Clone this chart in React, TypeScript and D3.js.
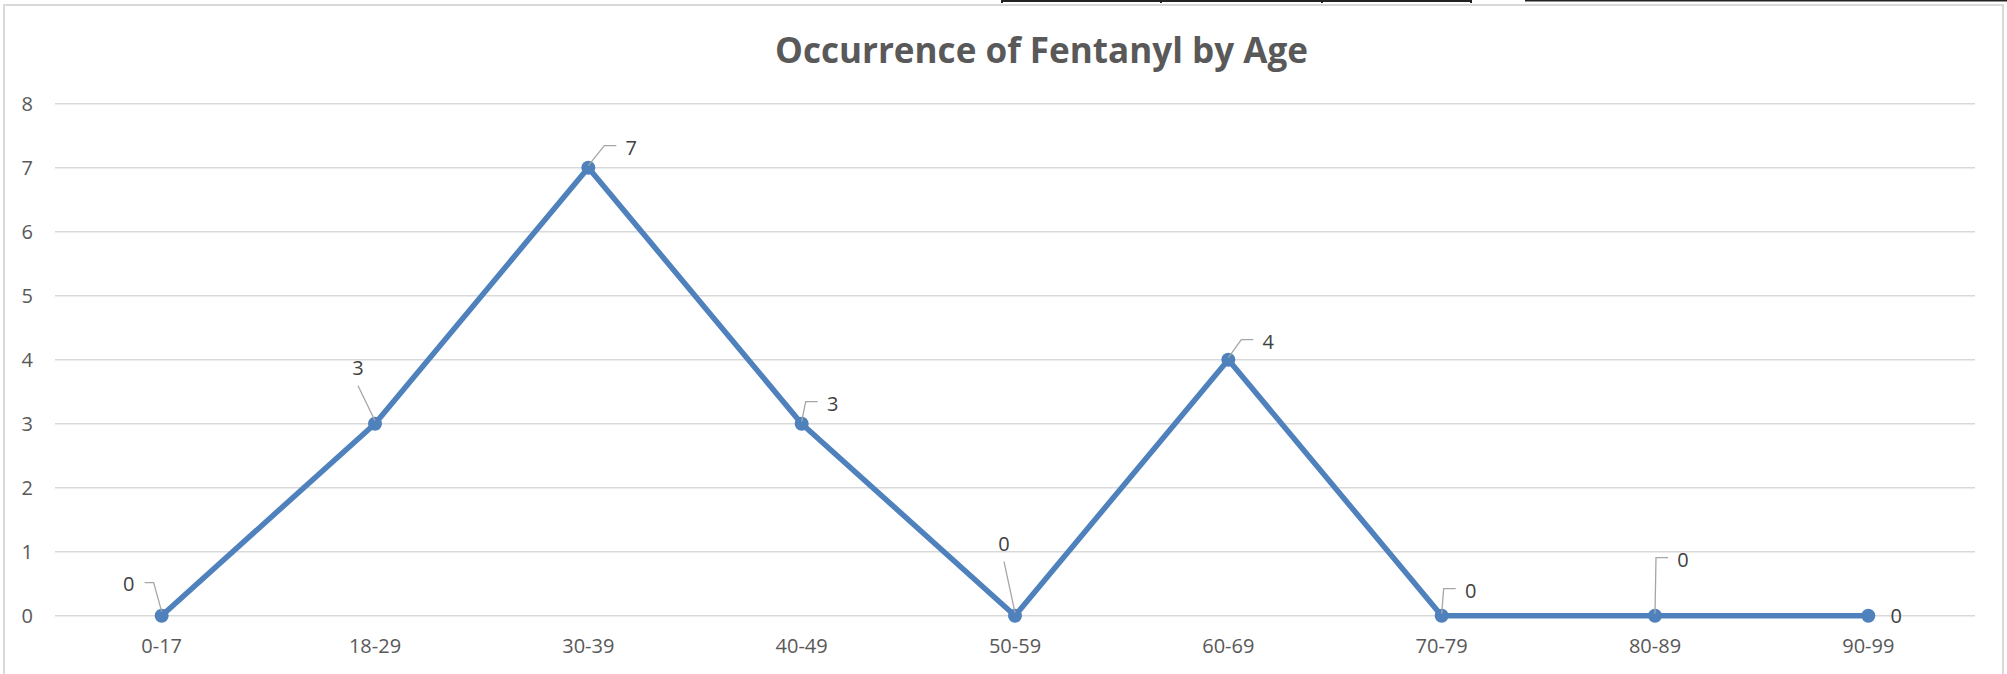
import { useEffect, useRef } from 'react';
import * as d3 from 'd3';

// age bands and counts
const ageGroups = ['0-17', '18-29', '30-39', '40-49', '50-59', '60-69', '70-79', '80-89', '90-99'];
const occurrences = [0, 3, 7, 3, 0, 4, 0, 0, 0];
const yTicks = [0, 1, 2, 3, 4, 5, 6, 7, 8];

// where each data label was dragged to, relative to its point (px) and how the leader runs
const labelOffsets: Array<[number, number]> = [
  [-33, -32], [-17, -56], [43, -20], [31, -20], [-11, -72], [40, -18], [29, -25], [28, -56], [28, 0],
];
const leaderKinds = ['left', 'below', 'right', 'right', 'below', 'right', 'right', 'right', 'none'];

export default function App() {
  const width = 2007;
  const height = 674;
  const plotLeft = 55;
  const plotRight = 1975;
  const plotTop = 103.7;
  const plotBottom = 615.7;

  const x = d3.scaleBand<string>().domain(ageGroups).range([plotLeft, plotRight]).padding(0);
  const cx = (c: string) => (x(c) ?? 0) + x.bandwidth() / 2;
  const y = d3.scaleLinear().domain([0, 8]).range([plotBottom, plotTop]);

  const line = d3.line<number>()
    .x((_, i) => cx(ageGroups[i]))
    .y(d => y(d));

  const gy = useRef<SVGGElement>(null);

  useEffect(() => {
    if (gy.current) {
      const g = d3.select(gy.current);
      g.call(d3.axisLeft(y).tickValues(yTicks).tickSize(0).tickPadding(22).tickFormat(d3.format('d')));
      g.select('.domain').remove();
      g.selectAll('text')
        .attr('font-family', '"Open Sans", sans-serif')
        .attr('font-size', 20)
        .attr('fill', '#595959');
    }
  }, [gy, y]);

  // leader line path for a dragged label
  const leaderPath = (px: number, py: number, lx: number, ly: number, kind: string) => {
    const halfW = 6;
    if (kind === 'right') {
      const left = lx - halfW;
      return `M${px},${py - 2}L${left - 21},${ly - 2}L${left - 9},${ly - 2}`;
    }
    if (kind === 'left') {
      const right = lx + halfW;
      return `M${px},${py - 4}L${right + 19},${ly - 1}L${right + 10},${ly - 1}`;
    }
    if (kind === 'below') {
      return `M${lx},${ly + 18}L${px},${py - 3}`;
    }
    return '';
  };

  return (
    <svg width={width} height={height} style={{ position: 'absolute', left: 0, top: 0, background: '#fff' }}>
      {/* bits of the spreadsheet peeking above the chart */}
      <g stroke="#222" strokeWidth={2}>
        <line x1={1002} x2={1471} y1={1} y2={1} />
        <line x1={1002} x2={1002} y1={0} y2={3} />
        <line x1={1161} x2={1161} y1={0} y2={3} />
        <line x1={1322} x2={1322} y1={0} y2={3} />
        <line x1={1471} x2={1471} y1={0} y2={3} />
        <line x1={1525} x2={2007} y1={0.5} y2={0.5} />
      </g>

      {/* chart area border */}
      <rect x={4} y={5} width={1999} height={700} fill="none" stroke="#d9d9d9" strokeWidth={2} />

      <text
        x={1041.5}
        y={63}
        textAnchor="middle"
        fontFamily='"Open Sans", sans-serif'
        fontWeight={700}
        fontSize={35}
        fill="#595959"
        textLength={533}
        lengthAdjust="spacingAndGlyphs"
      >
        Occurrence of Fentanyl by Age
      </text>

      {yTicks.map(t => (
        <line key={t} x1={plotLeft} x2={plotRight} y1={y(t)} y2={y(t)} stroke="#d9d9d9" strokeWidth={1.5} />
      ))}

      <g ref={gy} transform={`translate(${plotLeft},0)`}></g>

      {ageGroups.map(c => (
        <text
          key={c}
          x={cx(c)}
          y={653}
          textAnchor="middle"
          fontFamily='"Open Sans", sans-serif'
          fontSize={20}
          fill="#595959"
        >
          {c}
        </text>
      ))}

      <path d={line(occurrences) ?? ''} fill="none" stroke="#4f81bd" strokeWidth={5.5} strokeLinejoin="round" />
      {occurrences.map((v, i) => (
        <circle key={i} cx={cx(ageGroups[i])} cy={y(v)} r={7} fill="#4f81bd" />
      ))}

      {occurrences.map((v, i) => {
        const px = cx(ageGroups[i]);
        const py = y(v);
        const lx = px + labelOffsets[i][0];
        const ly = py + labelOffsets[i][1];
        const kind = leaderKinds[i];
        return (
          <g key={i}>
            {kind !== 'none' && (
              <path d={leaderPath(px, py, lx, ly, kind)} fill="none" stroke="#a6a6a6" strokeWidth={1.3} />
            )}
            <text
              x={lx}
              y={ly + 7}
              textAnchor="middle"
              fontFamily='"Open Sans", sans-serif'
              fontSize={20}
              fill="#404040"
            >
              {v}
            </text>
          </g>
        );
      })}
    </svg>
  );
}
